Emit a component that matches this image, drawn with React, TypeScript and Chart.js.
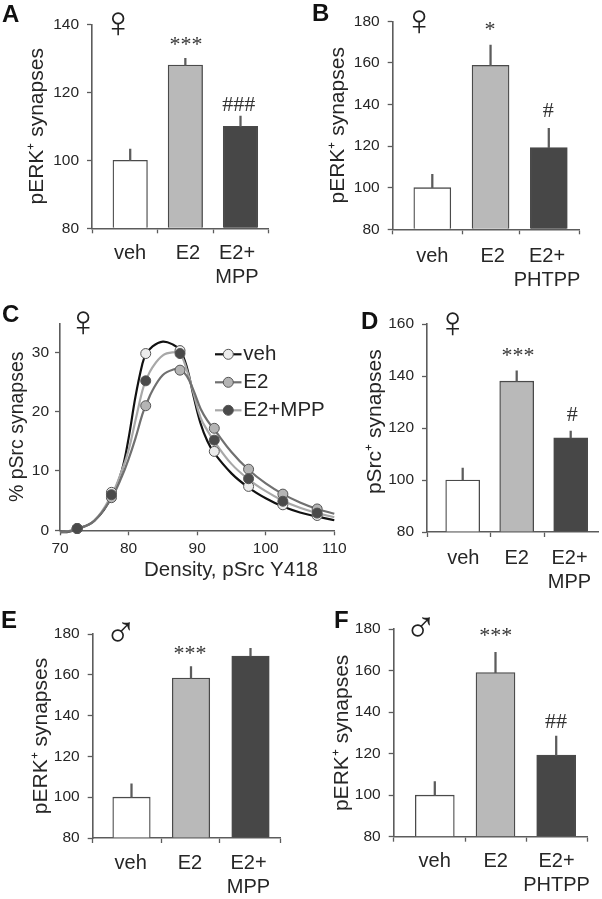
import React, { useEffect, useRef } from "react";
import { Chart, registerables } from "chart.js";

Chart.register(...registerables);

const SANS = "'Liberation Sans', Arial, sans-serif";
const INK = "#262626";
const AXIS = "#5c5c5c";
const BAR_FILLS = ["#ffffff", "#b9b9b9", "#474747"];

// ---- bar panel data ----
const labelsMpp: (string | string[])[] = ["veh", "E2", ["E2+", "MPP"]];
const labelsPhtpp: (string | string[])[] = ["veh", "E2", ["E2+", "PHTPP"]];

const valuesA = [100, 128, 110];
const errorsA = [3.3, 2, 3];
const ticksA = [80, 100, 120, 140];

const valuesB = [100, 158.8, 119.3];
const errorsB = [6.4, 9.8, 9.3];
const ticksB = [80, 100, 120, 140, 160, 180];

const valuesD = [100, 138, 116.2];
const errorsD = [4.6, 4, 2.6];
const ticksD = [80, 100, 120, 140, 160];

const valuesE = [100, 158.4, 169.2];
const errorsE = [6.5, 5.6, 3.8];
const ticksE = [80, 100, 120, 140, 160, 180];

const valuesF = [100, 159, 119.3];
const errorsF = [6.5, 9.8, 9.2];
const ticksF = [80, 100, 120, 140, 160, 180];

// ---- density curves (panel C) ----
const curveX = [70, 71, 72.5, 75, 77.5, 79, 80, 81, 82, 82.5, 83.5, 85, 86.5, 87.5, 88.5, 89.5, 90.5, 91.5, 92.5, 95, 97.5, 100, 102.5, 105, 107.5, 110];
const curveVeh = [-0.3, -0.3, 0.2, 1.6, 5.6, 10, 15.5, 22.5, 28, 29.6, 31, 31.8, 31.3, 30.4, 27.5, 22.5, 18, 15, 13, 9.6, 7.2, 5.4, 4, 3, 2.3, 1.7];
const curveE2 = [-0.3, -0.2, 0.2, 1.6, 5.4, 9, 12, 15.5, 19.5, 21, 23.6, 26.2, 27.1, 27.1, 26, 23.5, 20.5, 18.5, 17, 13.2, 10.2, 7.9, 6.1, 4.7, 3.6, 2.8];
const curveMpp = [-0.3, -0.2, 0.2, 1.6, 5.9, 10, 13.5, 18.5, 23.5, 25.2, 27.5, 29.5, 30, 29.8, 27, 23, 19, 16.8, 15, 11.2, 8.6, 6.6, 5, 3.8, 2.9, 2.2];
const pointX = [72.5, 77.5, 82.5, 87.5, 92.5, 97.5, 102.5, 107.5];
const pointVeh = [0.3, 6.4, 29.8, 30.3, 13.3, 7.4, 4.3, 2.5];
const pointE2 = [0.3, 5.5, 21, 27, 17.2, 10.3, 6.1, 3.6];
const pointMpp = [0.3, 6, 25.2, 29.8, 15.2, 8.7, 4.9, 2.9];
const ticksCx = [70, 80, 90, 100, 110];
const ticksCy = [0, 10, 20, 30];
const legendC = ["veh", "E2", "E2+MPP"];

type Note = { text: string; x: number; y: number; font: string; align?: CanvasTextAlign; rot?: number; color?: string };

const notesPlugin = (notes: Note[]) => ({
  id: "notes",
  afterDraw(chart: any) {
    const c = chart.ctx;
    for (const n of notes) {
      c.save();
      c.translate(n.x, n.y);
      if (n.rot) c.rotate(n.rot);
      c.font = n.font;
      c.fillStyle = n.color || INK;
      c.textAlign = n.align || "center";
      c.textBaseline = "middle";
      c.fillText(n.text, 0, 0);
      c.restore();
    }
  },
});

const letter = (text: string, x: number, y: number): Note => ({ text, x, y, font: `bold 24px ${SANS}`, align: "left", color: "#111" });
const sign = (text: string, x: number, y: number): Note => ({ text, x, y, font: `44px ${SANS}`, color: "#222" });
const mark = (text: string, x: number, y: number): Note => ({ text, x, y, font: `22px 'Liberation Serif'`, color: "#333" });

type BarPanel = {
  left: number; right: number; top: number; bottom: number;
  first: number; step: number; barW: number;
  yMin: number; yMax: number; yTicks: number[];
  values: number[]; errors: number[]; labels: (string | string[])[];
  labelPx: number[]; dividerPx: number[];
  title: string | null; titleX: number; labelPad: number; notes: Note[];
};

function yAxis(p: { left: number; yMin: number; yMax: number; yTicks: number[]; title: string | null; titleX: number }, size = 21, tickPad = 8) {
  return {
    type: "linear",
    min: p.yMin,
    max: p.yMax,
    afterBuildTicks: (s: any) => { s.ticks = p.yTicks.map((value) => ({ value })); },
    afterFit: (s: any) => { s.width = p.left; },
    border: { color: AXIS, width: 1.6 },
    grid: { drawOnChartArea: false, tickLength: 5, tickColor: AXIS, tickWidth: 1.3 },
    ticks: { color: INK, font: { family: SANS, size: 15.5 }, padding: tickPad },
    title: p.title
      ? { display: true, text: p.title, color: INK, font: { family: SANS, size, lineHeight: 1.2 }, padding: { top: p.titleX - size * 0.6, bottom: 0 } }
      : { display: false },
  };
}

function barConfig(p: BarPanel) {
  const toX = (px: number) => (px - p.first) / p.step;
  const points = p.values.map((y, i) => ({ x: i, y }));
  const whiskers = p.values.map((y, i) => ({ x: i, y: [y, y + p.errors[i]] }));
  const xTicks = [
    ...p.dividerPx.map((px) => ({ value: toX(px), cap: null })),
    ...p.labelPx.map((px, i) => ({ value: toX(px), cap: p.labels[i] })),
  ].sort((a, b) => a.value - b.value);
  return {
    type: "bar",
    data: {
      datasets: [
        { data: whiskers, backgroundColor: AXIS, borderWidth: 0, barThickness: 1.6, grouped: false },
        { data: points, backgroundColor: BAR_FILLS, borderColor: "#4a4a4a", borderWidth: 1.3, borderSkipped: "bottom", barThickness: p.barW, grouped: false, base: p.yMin },
      ],
    },
    options: {
      responsive: false,
      animation: false,
      layout: { padding: { left: 0, top: p.top, right: 602 - p.right, bottom: 0 } },
      plugins: { legend: { display: false }, tooltip: { enabled: false } },
      scales: {
        x: {
          type: "linear",
          offset: false,
          min: toX(p.left),
          max: toX(p.right),
          afterBuildTicks: (s: any) => { s.ticks = xTicks.map((t) => ({ ...t })); },
          afterFit: (s: any) => { s.height = 899 - p.bottom; },
          border: { color: AXIS, width: 1.6 },
          grid: {
            offset: false,
            drawOnChartArea: false,
            tickLength: 5,
            tickWidth: 1.3,
            tickColor: (c: any) => (c.tick && c.tick.cap ? "rgba(0,0,0,0)" : AXIS),
          },
          ticks: {
            color: INK,
            autoSkip: false,
            maxRotation: 0,
            minRotation: 0,
            padding: p.labelPad,
            font: { family: SANS, size: 20, lineHeight: 1.2 },
            callback: (_v: any, i: number, all: any[]) => (all[i].cap ? all[i].cap : ""),
          },
        },
        y: yAxis(p),
      },
    },
    plugins: [notesPlugin(p.notes)],
  };
}

const panelA: BarPanel = {
  left: 92, right: 268, top: 24.3, bottom: 228.3, first: 130.2, step: 55.15, barW: 34.5,
  yMin: 80, yMax: 140, yTicks: ticksA, values: valuesA, errors: errorsA, labels: labelsMpp,
  labelPx: [130, 188, 237], dividerPx: [92, 157.7, 213, 268],
  title: "pERK⁺ synapses", titleX: 37, labelPad: 8,
  notes: [letter("A", 2, 15), sign("♀", 118.3, 25), mark("***", 186, 45), mark("###", 238.7, 105.5)],
};
const panelB: BarPanel = {
  left: 392.7, right: 579.3, top: 21.3, bottom: 229.3, first: 432.3, step: 58.25, barW: 37,
  yMin: 80, yMax: 180, yTicks: ticksB, values: valuesB, errors: errorsB, labels: labelsPhtpp,
  labelPx: [432.3, 492.7, 547], dividerPx: [392.7, 462.7, 519.7, 579.3],
  title: "pERK⁺ synapses", titleX: 338, labelPad: 10,
  notes: [letter("B", 312, 14), sign("♀", 419.3, 23), mark("*", 490, 30), mark("#", 548.3, 111)],
};
const panelD: BarPanel = {
  left: 427, right: 598.3, top: 324, bottom: 532, first: 462.7, step: 54, barW: 34,
  yMin: 80, yMax: 160, yTicks: ticksD, values: valuesD, errors: errorsD, labels: labelsMpp,
  labelPx: [463.3, 516.7, 569.5], dividerPx: [427, 490, 544.3],
  title: null, titleX: 0, labelPad: 9,
  notes: [
    letter("D", 361, 322), sign("♀", 452.7, 325), mark("***", 518, 356), mark("#", 572.3, 415.3),
    { text: "pSrc⁺ synapses", x: 375.7, y: 421.7, rot: -Math.PI / 2, font: `21px ${SANS}` },
  ],
};
const panelE: BarPanel = {
  left: 92.7, right: 280, top: 634, bottom: 838, first: 131.5, step: 59.5, barW: 37.5,
  yMin: 80, yMax: 180, yTicks: ticksE, values: valuesE, errors: errorsE, labels: labelsMpp,
  labelPx: [130.7, 190, 248.5], dividerPx: [92.7, 161, 219.7, 280],
  title: "pERK⁺ synapses", titleX: 41.7, labelPad: 8,
  notes: [letter("E", 1, 621), sign("♂", 120.7, 635), mark("***", 190, 654)],
};
const panelF: BarPanel = {
  left: 393.7, right: 587, top: 629, bottom: 836.7, first: 434.8, step: 60.7, barW: 39,
  yMin: 80, yMax: 180, yTicks: ticksF, values: valuesF, errors: errorsF, labels: labelsPhtpp,
  labelPx: [434.7, 495.7, 556.5], dividerPx: [393.7, 465.7, 526, 587],
  title: "pERK⁺ synapses", titleX: 342.3, labelPad: 8,
  notes: [letter("F", 334, 621), sign("♂", 420.7, 630), mark("***", 495.7, 636), mark("##", 556, 722.3)],
};

const zip = (xs: number[], ys: number[]) => xs.map((x, i) => ({ x, y: ys[i] }));

const LEGEND_STYLE = [
  { line: "#111111", fill: "#ececec", y: 354.3 },
  { line: "#707070", fill: "#b4b4b4", y: 382.3 },
  { line: "#a8a8a8", fill: "#4a4a4a", y: 410.3 },
];

const legendPlugin = {
  id: "sideLegend",
  afterDraw(chart: any) {
    const c = chart.ctx;
    legendC.forEach((name, i) => {
      const s = LEGEND_STYLE[i];
      c.save();
      c.strokeStyle = s.line;
      c.lineWidth = 2.2;
      c.beginPath();
      c.moveTo(215, s.y);
      c.lineTo(241.5, s.y);
      c.stroke();
      c.fillStyle = s.fill;
      c.strokeStyle = "#555";
      c.lineWidth = 1;
      c.beginPath();
      c.arc(228.3, s.y, 5, 0, Math.PI * 2);
      c.fill();
      c.stroke();
      c.fillStyle = INK;
      c.font = `20.5px ${SANS}`;
      c.textAlign = "left";
      c.textBaseline = "middle";
      c.fillText(name, 243.3, s.y);
      c.restore();
    });
  },
};

function curveConfig() {
  const L = { left: 60, yMin: 0, yMax: 34.9, yTicks: ticksCy, title: "% pSrc synapses", titleX: 18 };
  const curve = (ys: number[], color: string) => ({
    type: "line", data: zip(curveX, ys), borderColor: color, borderWidth: 2.2, pointRadius: 0, tension: 0.4, clip: false, fill: false,
  });
  const dots = (ys: number[], fill: string) => ({
    type: "scatter", data: zip(pointX, ys), showLine: false, pointRadius: 5, pointBackgroundColor: fill, pointBorderColor: "#555", pointBorderWidth: 1, clip: false,
  });
  return {
    type: "scatter",
    data: {
      datasets: [
        dots(pointMpp, LEGEND_STYLE[2].fill),
        dots(pointE2, LEGEND_STYLE[1].fill),
        dots(pointVeh, LEGEND_STYLE[0].fill),
        curve(curveE2, LEGEND_STYLE[1].line),
        curve(curveMpp, LEGEND_STYLE[2].line),
        curve(curveVeh, LEGEND_STYLE[0].line),
      ],
    },
    options: {
      responsive: false,
      animation: false,
      layout: { padding: { left: 0, top: 323.3, right: 602 - 334.3, bottom: 0 } },
      plugins: { legend: { display: false }, tooltip: { enabled: false } },
      scales: {
        x: {
          type: "linear",
          min: 70,
          max: 110,
          afterBuildTicks: (s: any) => { s.ticks = ticksCx.map((value) => ({ value })); },
          afterFit: (s: any) => { s.height = 899 - 530.3; },
          border: { color: AXIS, width: 1.6 },
          grid: { drawOnChartArea: false, tickLength: 5, tickColor: AXIS, tickWidth: 1.3 },
          ticks: { color: INK, font: { family: SANS, size: 15.5 }, padding: 4, maxRotation: 0 },
        },
        y: yAxis(L, 19.5, 6),
      },
    },
    plugins: [
      notesPlugin([
        letter("C", 2, 315),
        sign("♀", 83.3, 324),
        { text: "Density, pSrc Y418", x: 231, y: 570, font: `20.5px ${SANS}` },
      ]),
      legendPlugin,
    ],
  };
}

function Panel({ build }: { build: () => any }) {
  const ref = useRef<HTMLCanvasElement>(null);
  useEffect(() => {
    const chart = new Chart(ref.current as HTMLCanvasElement, build());
    return () => chart.destroy();
  }, [build]);
  return <canvas ref={ref} width={602} height={899} style={{ position: "absolute", left: 0, top: 0, width: 602, height: 899 }} />;
}

const builders = [
  () => barConfig(panelA),
  () => barConfig(panelB),
  curveConfig,
  () => barConfig(panelD),
  () => barConfig(panelE),
  () => barConfig(panelF),
];

export default function App() {
  return (
    <div style={{ position: "absolute", left: 0, top: 0, width: 602, height: 899, background: "#fff" }}>
      {builders.map((b, i) => <Panel key={i} build={b} />)}
    </div>
  );
}
